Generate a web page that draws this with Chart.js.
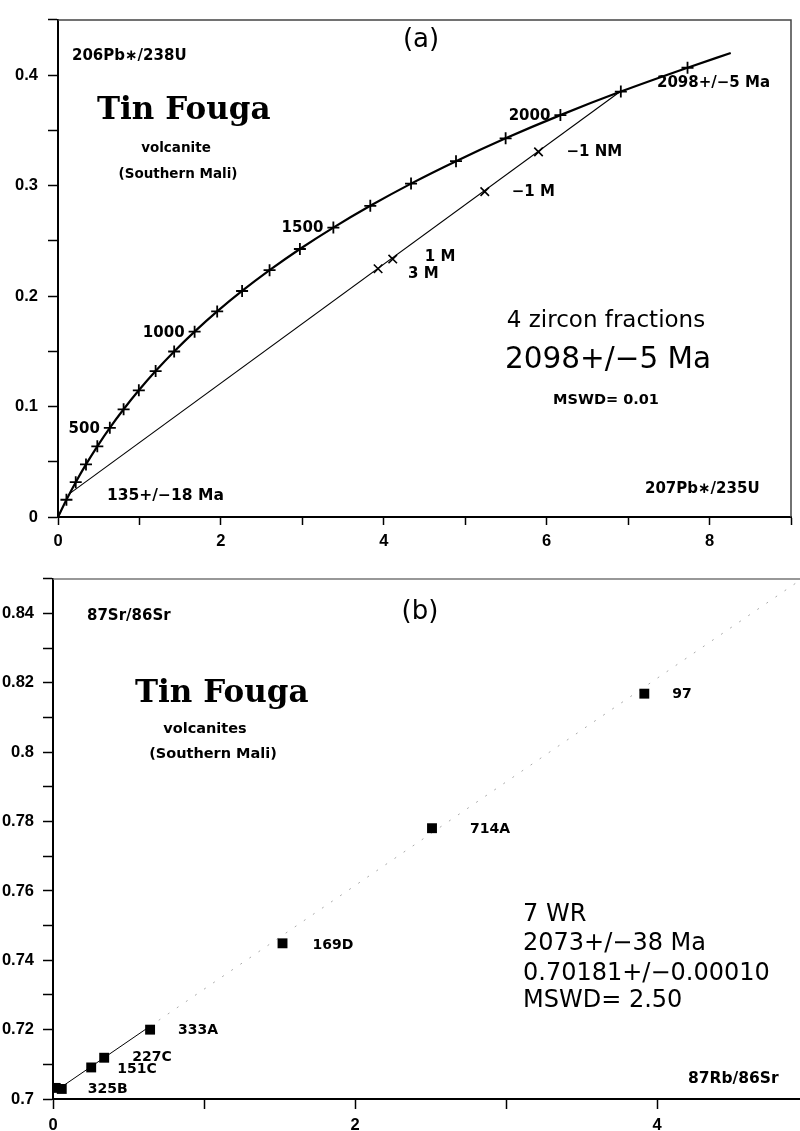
<!DOCTYPE html>
<html lang="en">
<head>
<meta charset="UTF-8">
<title>Tin Fouga - U-Pb and Rb-Sr</title>
<style>
  html, body { margin: 0; padding: 0; background: #fff; overflow: hidden; }
  canvas { position: absolute; left: 0; }
</style>
</head>
<body>
<canvas id="concordia" width="800" height="560" style="top:0"></canvas>
<canvas id="isochron" width="815" height="571" style="top:560px"></canvas>
<script src="https://cdn.jsdelivr.net/npm/chart.js"></script>
<script>
// (a) U-Pb concordia, marks every 100 Ma from 100 to 2200 Ma
const concordiaAges = [100, 200, 300, 400, 500, 600, 700, 800, 900, 1000, 1100,
  1200, 1300, 1400, 1500, 1600, 1700, 1800, 1900, 2000, 2100, 2200];
const concordia207 = [0.1035, 0.2177, 0.3437, 0.4828, 0.6363, 0.8056, 0.9925, 1.1987,
  1.4263, 1.6774, 1.9545, 2.2603, 2.5977, 2.9701, 3.3810, 3.8344, 4.3347, 4.8868,
  5.4961, 6.1686, 6.9106, 7.7295];
const concordia206 = [0.0156, 0.0315, 0.0476, 0.0640, 0.0807, 0.0975, 0.1147, 0.1321,
  0.1498, 0.1678, 0.1861, 0.2046, 0.2234, 0.2426, 0.2620, 0.2817, 0.3018, 0.3221,
  0.3428, 0.3638, 0.3851, 0.4067];
const curveStart = [0, 0];
const curveEnd = [8.26, 0.420];
const labelledAges = [500, 1000, 1500, 2000];

const discordia207 = [0.142, 6.895];
const discordia206 = [0.0212, 0.3847];

const fractionNames = ['3 M', '1 M', '\u22121 M', '\u22121 NM'];
const fraction207 = [3.93, 4.11, 5.24, 5.90];
const fraction206 = [0.2247, 0.2335, 0.2945, 0.3305];

// (b) Rb-Sr whole rock isochron
const sampleNames = ['325B', '', '151C', '227C', '333A', '169D', '714A', '97'];
const rbSr = [0.018, 0.058, 0.253, 0.339, 0.643, 1.520, 2.510, 3.916];
const srSr = [0.7032, 0.7029, 0.7091, 0.7119, 0.7200, 0.7449, 0.7781, 0.8169];
const isochronRb = [0, 0.64, 4.96];
const isochronSr = [0.7018, 0.7209, 0.85];

const SANS = 'DejaVu Sans';
Chart.defaults.font.family = SANS;
Chart.defaults.color = '#000';

const pts = (xs, ys) => xs.map((x, i) => ({ x: x, y: ys[i] }));

// draws free text and labels next to points
const notesPlugin = {
  id: 'notes',
  afterDraw(chart, args, opts) {
    const ctx = chart.ctx;
    const sx = chart.scales.x, sy = chart.scales.y;
    ctx.save();
    ctx.fillStyle = '#000';
    (opts.items || []).forEach(t => {
      ctx.font = t.font;
      ctx.textAlign = t.align || 'left';
      ctx.textBaseline = 'alphabetic';
      ctx.fillText(t.text, t.x, t.y);
    });
    (opts.tags || []).forEach(t => {
      ctx.font = t.font;
      ctx.textAlign = t.align || 'left';
      ctx.textBaseline = 'middle';
      ctx.fillText(t.text, sx.getPixelForValue(t.vx) + t.dx, sy.getPixelForValue(t.vy) + t.dy);
    });
    ctx.restore();
  }
};

// top and right edge of the plot box
const framePlugin = {
  id: 'frame',
  beforeDatasetsDraw(chart, args, opts) {
    const a = chart.chartArea, ctx = chart.ctx;
    ctx.save();
    ctx.strokeStyle = opts.color || '#333';
    ctx.lineWidth = 1.5;
    ctx.beginPath();
    ctx.moveTo(a.left, a.top);
    ctx.lineTo(a.right, a.top);
    ctx.lineTo(a.right, a.bottom);
    ctx.stroke();
    ctx.restore();
  }
};

function axisStyle(tickLen, pad) {
  return {
    border: { display: true, color: '#000', width: 2 },
    grid: { drawOnChartArea: false, drawTicks: true, tickLength: tickLen, tickColor: '#000', tickWidth: 1.5 },
    ticks: { autoSkip: false, maxRotation: 0, padding: pad, color: '#000',
             font: { family: 'Liberation Sans', size: 16.5, weight: 'bold' } }
  };
}

// ---------- (a) concordia ----------
const marks = pts(concordia207, concordia206);
const curve = [{ x: curveStart[0], y: curveStart[1] }].concat(marks, [{ x: curveEnd[0], y: curveEnd[1] }]);

const ax = axisStyle(8, 7);
ax.type = 'linear'; ax.min = 0; ax.max = 9;
ax.ticks.stepSize = 1;
ax.ticks.callback = v => (v % 2 === 0 ? String(v) : '');
ax.afterFit = s => { s.height = 43; };

const ay = axisStyle(10, 10);
ay.type = 'linear'; ay.min = 0; ay.max = 0.45;
ay.ticks.stepSize = 0.05;
ay.ticks.callback = v => {
  const k = Math.round(v * 100);
  if (k % 10 !== 0) return '';
  return k === 0 ? '0' : (k / 100).toFixed(1);
};
ay.afterFit = s => { s.width = 58; };

const bold15 = 'bold 15px "DejaVu Sans"';
const ageTags = labelledAges.map(age => {
  const i = concordiaAges.indexOf(age);
  return { text: String(age), vx: concordia207[i], vy: concordia206[i], dx: -10, dy: 1, align: 'right', font: bold15 };
});
const fracOffsets = [[30, 5], [32, -2], [27, 0], [28, 0]];
const fracTags = fractionNames.map((n, i) => ({
  text: n, vx: fraction207[i], vy: fraction206[i], dx: fracOffsets[i][0], dy: fracOffsets[i][1], font: bold15
}));

new Chart(document.getElementById('concordia'), {
  type: 'scatter',
  data: {
    datasets: [
      { label: 'Concordia', data: curve, showLine: true, borderColor: '#000', borderWidth: 2.2,
        pointRadius: 0, cubicInterpolationMode: 'monotone', order: 3 },
      { label: 'Discordia', data: pts(discordia207, discordia206), showLine: true, borderColor: '#000',
        borderWidth: 1.1, pointRadius: 0, order: 2 },
      { label: 'Age marks', data: marks, pointStyle: 'cross', pointRadius: 6, borderColor: '#000',
        borderWidth: 1.8, order: 1 },
      { label: 'Zircon fractions', data: pts(fraction207, fraction206), pointStyle: 'crossRot', pointRadius: 6,
        borderColor: '#000', borderWidth: 1.6, order: 0 }
    ]
  },
  options: {
    responsive: false,
    animation: false,
    layout: { padding: { top: 7, right: 9, left: 0, bottom: 0 } },
    scales: { x: ax, y: ay },
    plugins: {
      legend: { display: false },
      tooltip: { enabled: false },
      frame: { color: '#444' },
      notes: {
        items: [
          { text: '(a)', x: 421, y: 47, align: 'center', font: '26px "DejaVu Sans"' },
          { text: '206Pb\u2217/238U', x: 72, y: 60, font: bold15 },
          { text: 'Tin Fouga', x: 97, y: 119, font: 'bold 31px "DejaVu Serif"' },
          { text: 'volcanite', x: 176, y: 152, align: 'center', font: 'bold 13.5px "DejaVu Sans"' },
          { text: '(Southern Mali)', x: 178, y: 178, align: 'center', font: 'bold 13.5px "DejaVu Sans"' },
          { text: '2098+/\u22125 Ma', x: 657, y: 87, font: bold15 },
          { text: '4 zircon fractions', x: 606, y: 327, align: 'center', font: '23px "DejaVu Sans"' },
          { text: '2098+/\u22125 Ma', x: 608, y: 368, align: 'center', font: '29.5px "DejaVu Sans"' },
          { text: 'MSWD= 0.01', x: 606, y: 404, align: 'center', font: 'bold 14.5px "DejaVu Sans"' },
          { text: '135+/\u221218 Ma', x: 107, y: 500, font: 'bold 15.5px "DejaVu Sans"' },
          { text: '207Pb\u2217/235U', x: 645, y: 493, font: bold15 }
        ],
        tags: ageTags.concat(fracTags)
      }
    }
  },
  plugins: [framePlugin, notesPlugin]
});

// ---------- (b) isochron ----------
const bx = axisStyle(10, 7);
bx.type = 'linear'; bx.min = 0; bx.max = 5;
bx.ticks.stepSize = 1;
bx.ticks.callback = v => (v % 2 === 0 ? String(v) : '');
bx.afterFit = s => { s.height = 32; };

const by = axisStyle(10, 9);
by.type = 'linear'; by.min = 0.7; by.max = 0.85;
by.ticks.stepSize = 0.01;
by.ticks.callback = v => {
  const k = Math.round(v * 100);
  return k % 2 === 0 ? String(k / 100) : '';
};
by.afterFit = s => { s.width = 53; };

const bold14 = 'bold 14px "DejaVu Sans"';
const sampleOffsets = [[32, 1], [0, 0], [26, 2], [28, 0], [28, 1], [30, 2], [38, 1], [28, 1]];
const sampleTags = sampleNames.map((n, i) => ({
  text: n, vx: rbSr[i], vy: srSr[i], dx: sampleOffsets[i][0], dy: sampleOffsets[i][1], font: bold14
})).filter(t => t.text);

const big = '24px "DejaVu Sans"';
new Chart(document.getElementById('isochron'), {
  type: 'scatter',
  data: {
    datasets: [
      { label: 'Isochron', data: pts(isochronRb, isochronSr), showLine: true, borderWidth: 1, pointRadius: 0,
        borderColor: '#000',
        segment: {
          borderColor: c => (c.p0DataIndex === 0 ? '#000' : '#aaa'),
          borderDash: c => (c.p0DataIndex === 0 ? [] : [2, 9])
        }, order: 1 },
      { label: 'Whole rocks', data: pts(rbSr, srSr), pointStyle: 'rect', pointRadius: 7,
        backgroundColor: '#000', borderColor: '#000', borderWidth: 0, order: 0 }
    ]
  },
  options: {
    responsive: false,
    animation: false,
    layout: { padding: { top: 18, right: 6, left: 0, bottom: 0 } },
    scales: { x: bx, y: by },
    plugins: {
      legend: { display: false },
      tooltip: { enabled: false },
      frame: { color: '#777' },
      notes: {
        items: [
          { text: '87Sr/86Sr', x: 87, y: 60, font: bold15 },
          { text: '(b)', x: 420, y: 59, align: 'center', font: '26px "DejaVu Sans"' },
          { text: 'Tin Fouga', x: 135, y: 142, font: 'bold 31px "DejaVu Serif"' },
          { text: 'volcanites', x: 205, y: 173, align: 'center', font: 'bold 14.5px "DejaVu Sans"' },
          { text: '(Southern Mali)', x: 213, y: 198, align: 'center', font: 'bold 14.5px "DejaVu Sans"' },
          { text: '7 WR', x: 523, y: 361, font: big },
          { text: '2073+/\u221238 Ma', x: 523, y: 390, font: big },
          { text: '0.70181+/\u22120.00010', x: 523, y: 420, font: big },
          { text: 'MSWD= 2.50', x: 523, y: 447, font: big },
          { text: '87Rb/86Sr', x: 688, y: 523, font: 'bold 15.5px "DejaVu Sans"' }
        ],
        tags: sampleTags
      }
    }
  },
  plugins: [framePlugin, notesPlugin]
});
</script>
</body>
</html>
